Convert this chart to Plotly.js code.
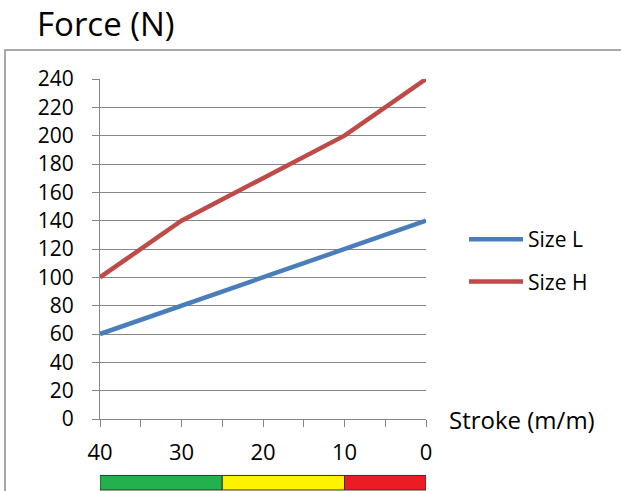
<!DOCTYPE html>
<html>
<head>
<meta charset="utf-8">
<script src="https://cdn.plot.ly/plotly-3.0.1.min.js"></script>
<style>html,body{margin:0;padding:0;background:#fff;}</style>
</head>
<body>
<div id="chart" style="width:621px;height:491px;"></div>
<script>
// ---- data ----
const strokeValues = [40, 30, 20, 10, 0];
const sizeL = [60, 80, 100, 120, 140];
const sizeH = [100, 140, 170, 200, 240];
const seriesNames = ['Size L', 'Size H'];
const xTickVals = [40, 35, 30, 25, 20, 15, 10, 5, 0];
const xTickText = ['40', '', '30', '', '20', '', '10', '', '0'];
const zoneStarts = [40, 25, 10];
const zoneEnds = [25, 10, 0];
const zoneColors = ['#22b14c', '#fff200', '#ed1c24'];
const chartTitle = 'Force (N)';
const xTitle = 'Stroke (m/m)';

// ---- styling ----
const grey = '#868686';
const font = 'Open Sans, Liberation Sans, sans-serif';

const traces = [
  {x: strokeValues, y: sizeL, name: seriesNames[0], mode: 'lines', legendgroup: 'a',
   line: {color: '#4a7ebb', width: 4.5}},
  {x: strokeValues, y: sizeH, name: seriesNames[1], mode: 'lines', legendgroup: 'b',
   line: {color: '#be4b48', width: 4.5}}
];

const shapes = [
  {type: 'rect', xref: 'paper', yref: 'paper', x0: -0.2914, x1: 1.7, y0: -0.3, y1: 1.0852,
   line: {color: '#8c8c8c', width: 1.5}, fillcolor: 'rgba(0,0,0,0)', layer: 'below'}
];
for (let i = 0; i < zoneStarts.length; i++) {
  shapes.push({type: 'rect', xref: 'x', yref: 'paper', x0: zoneStarts[i], x1: zoneEnds[i],
    y0: -0.2088, y1: -0.166, fillcolor: zoneColors[i], line: {color: '#333', width: 1}});
}

const layout = {
  width: 621, height: 491,
  margin: {l: 100, r: 195, t: 79, b: 72, pad: 0},
  paper_bgcolor: '#fff', plot_bgcolor: '#fff',
  font: {family: font, color: '#000'},
  title: {text: chartTitle, font: {size: 33, family: font, color: '#000'},
          xref: 'container', yref: 'container', x: 37 / 621, xanchor: 'left',
          y: 1 - 24 / 491, yanchor: 'middle'},
  showlegend: true,
  legend: {x: 1.1166, y: 0.466, xanchor: 'left', yanchor: 'middle', font: {size: 21},
           tracegroupgap: 12, itemwidth: 54, bgcolor: 'rgba(0,0,0,0)'},
  xaxis: {range: [40, 0], tickvals: xTickVals, ticktext: xTickText, ticks: 'outside',
          ticklen: 7, tickwidth: 1, tickcolor: grey, showline: true, linecolor: grey, linewidth: 1,
          showgrid: false, zeroline: false, tickfont: {size: 22}, ticklabelstandoff: 7,
          fixedrange: true},
  xaxis2: {range: [40, 0], overlaying: 'x', anchor: 'y', side: 'bottom', tickvals: xTickVals,
           ticks: 'inside', ticklen: 7, tickwidth: 1, tickcolor: grey, showticklabels: false,
           showgrid: false, showline: false, zeroline: false},
  yaxis: {range: [0, 240], dtick: 20, tick0: 0, ticks: 'outside', ticklen: 7, tickwidth: 1,
          tickcolor: grey, showgrid: true, gridcolor: grey, gridwidth: 1, showline: true,
          linecolor: grey, linewidth: 1, zeroline: false, tickfont: {size: 21},
          ticklabelstandoff: 14},
  shapes: shapes,
  annotations: [
    {text: xTitle, xref: 'paper', yref: 'paper', x: 1.0644, y: 0, xanchor: 'left',
     yanchor: 'middle', showarrow: false, font: {size: 24, family: font, color: '#000'}}
  ]
};

Plotly.newPlot('chart', traces, layout, {displayModeBar: false, staticPlot: true});
</script>
</body>
</html>
